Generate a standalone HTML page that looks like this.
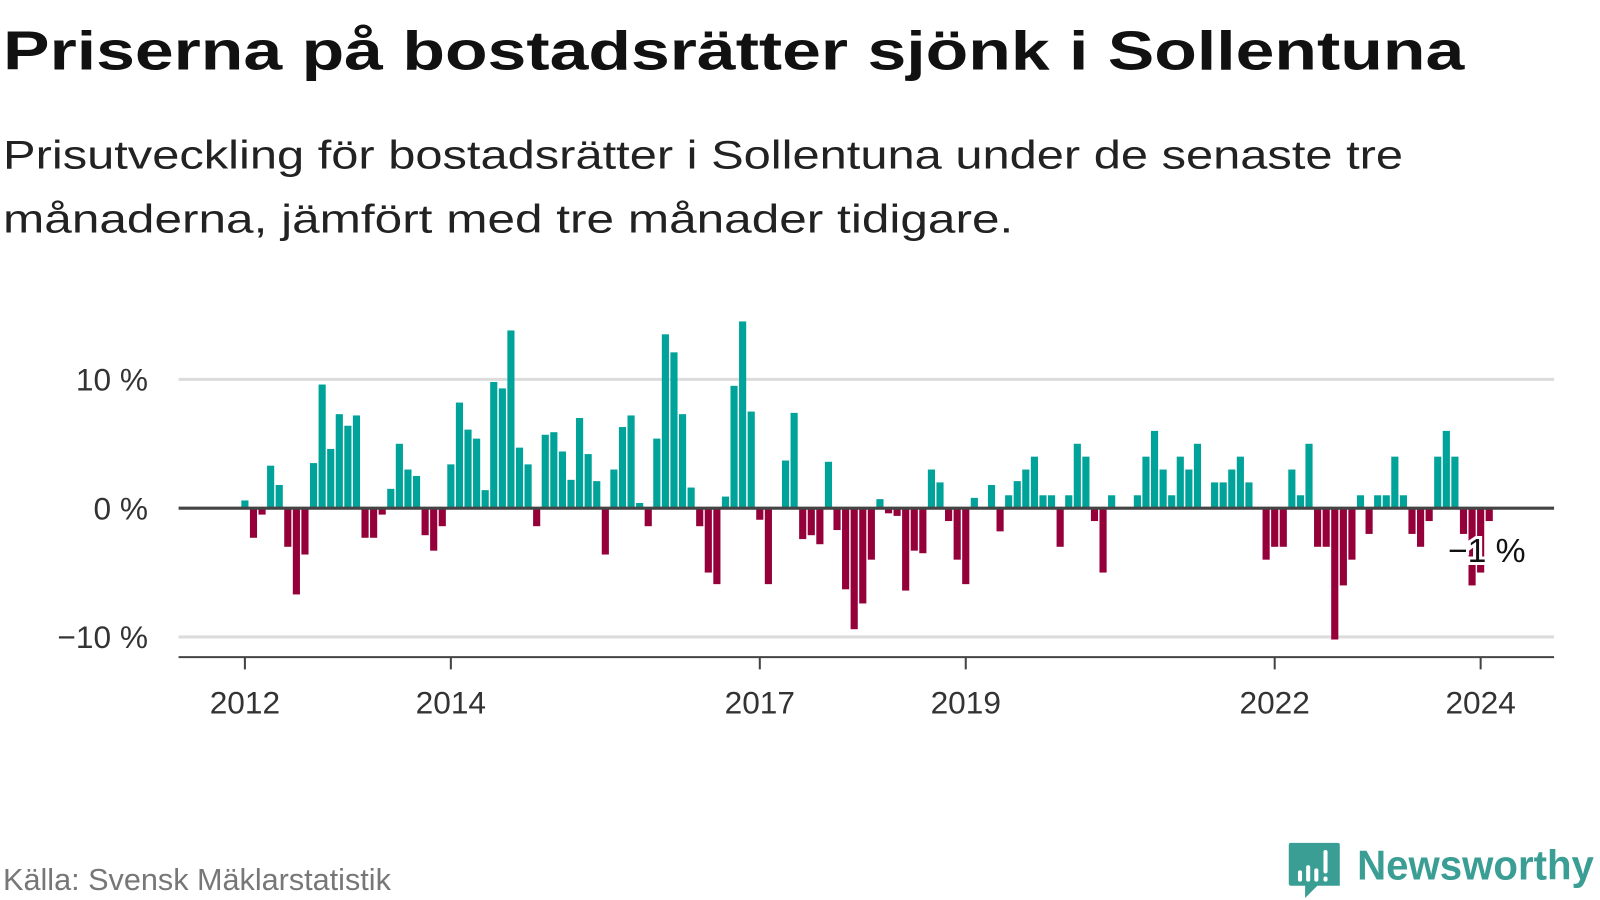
<!DOCTYPE html>
<html><head><meta charset="utf-8"><style>
body{margin:0;background:#fff;}
svg{display:block;font-family:"Liberation Sans","DejaVu Sans",sans-serif;}
</style></head><body>
<svg id="chart" width="1600" height="900" viewBox="0 0 1568 882">
<text x="3" y="68" font-size="54" font-weight="bold" fill="#111" textLength="1432" lengthAdjust="spacingAndGlyphs">Priserna på bostadsrätter sjönk i Sollentuna</text>
<text x="3" y="165" font-size="39" fill="#222" textLength="1372" lengthAdjust="spacingAndGlyphs">Prisutveckling för bostadsrätter i Sollentuna under de senaste tre</text>
<text x="3" y="228" font-size="39" fill="#222" textLength="990" lengthAdjust="spacingAndGlyphs">månaderna, jämfört med tre månader tidigare.</text>
<g id="grid"></g>
<g id="bars"></g>
<g id="axes"></g>
<text x="3" y="872" font-size="30" fill="#777">Källa: Svensk Mäklarstatistik</text>
<g>
<path d="M1265 826 h46 a2 2 0 0 1 2 2 v40 h-22 l-12 12 v-12 h-14 a2 2 0 0 1 -2 -2 v-38 a2 2 0 0 1 2 -2z" fill="#3a9e94"/>
<rect x="1272" y="853" width="4" height="11" rx="2" fill="#fff"/>
<rect x="1280" y="848" width="4" height="16" rx="2" fill="#fff"/>
<rect x="1288" y="851" width="4" height="13" rx="2" fill="#fff"/>
<rect x="1297" y="833" width="4" height="23" rx="2" fill="#fff"/>
<rect x="1297" y="859" width="4" height="5" rx="2" fill="#fff"/>
<text x="1330" y="862" font-size="41" font-weight="bold" fill="#3a9e94" textLength="232" lengthAdjust="spacingAndGlyphs">Newsworthy</text>
</g>
</svg>
<script>
const values = [0.6,-2.3,-0.5,3.3,1.8,-3.0,-6.7,-3.6,3.5,9.6,4.6,7.3,
6.4,7.2,-2.3,-2.3,-0.5,1.5,5.0,3.0,2.5,-2.1,-3.3,-1.4,
3.4,8.2,6.1,5.4,1.4,9.8,9.3,13.8,4.7,3.4,-1.4,5.7,
5.9,4.4,2.2,7.0,4.2,2.1,-3.6,3.0,6.3,7.2,0.4,-1.4,
5.4,13.5,12.1,7.3,1.6,-1.4,-5.0,-5.9,0.9,9.5,14.5,7.5,
-0.9,-5.9,0,3.7,7.4,-2.4,-2.1,-2.8,3.6,-1.7,-6.3,-9.4,
-7.4,-4.0,0.7,-0.4,-0.6,-6.4,-3.3,-3.5,3.0,2.0,-1.0,-4.0,
-5.9,0.8,0,1.8,-1.8,1.0,2.1,3.0,4.0,1.0,1.0,-3.0,
1.0,5.0,4.0,-1.0,-5.0,1.0,0,0,1.0,4.0,6.0,3.0,
1.0,4.0,3.0,5.0,0,2.0,2.0,3.0,4.0,2.0,0,-4.0,
-3.0,-3.0,3.0,1.0,5.0,-3.0,-3.0,-10.2,-6.0,-4.0,1.0,-2.0,
1.0,1.0,4.0,1.0,-2.0,-3.0,-1.0,4.0,6.0,4.0,-2.0,-6.0,
-5.0,-1.0];
const startYear = 2012;
const yTicks = [10,0,-10];
const yTickLabels = ["10 %","0 %","\u221210 %"];
const xTickYears = [2012,2014,2017,2019,2022,2024];
const lastLabel = "\u22121 %";

const NS = "http://www.w3.org/2000/svg";
function xYear(t){ return 240 + (t - 2012) * 100.92; }
function xMonth(i){ return xYear(startYear + i / 12); }
function y(v){ return 498 - v * 12.62; }
function mk(tag, attrs, parent){ const e=document.createElementNS(NS,tag); for(const k in attrs) e.setAttribute(k,attrs[k]); parent.appendChild(e); return e; }

const grid=document.getElementById('grid'), bars=document.getElementById('bars'), axes=document.getElementById('axes');
yTicks.forEach((t,k)=>{
  if(t!==0){
    const l=mk('line',{x1:175,x2:1523,y1:y(t),y2:y(t),stroke:'#dcdcdc','stroke-width':3},grid);
    
    
  }
  const tx=mk('text',{x:145,y:y(t)+11,'font-size':31,fill:'#333','text-anchor':'end'},axes);
  tx.textContent=yTickLabels[k];
  
  
});
values.forEach((v,i)=>{
  if(v===0) return;
  const cx=xMonth(i), w=7;
  const r=mk('rect',{x:cx-w/2,y:Math.min(y(v),y(0)),width:w,height:Math.abs(y(v)-y(0)),fill:v>0?'#00a399':'#95003a'},bars);
  
  
});
const zl=mk('line',{x1:175,x2:1523,y1:y(0),y2:y(0),stroke:'#444','stroke-width':3},axes);


const xl=mk('line',{x1:175,x2:1523,y1:644,y2:644,stroke:'#444','stroke-width':2},axes);


xTickYears.forEach(yr=>{
  const tk=mk('line',{x1:xYear(yr),x2:xYear(yr),y1:644,y2:656,stroke:'#444','stroke-width':2},axes);
  
  
  const tx=mk('text',{x:xYear(yr),y:699,'font-size':31,fill:'#333','text-anchor':'middle'},axes);
  tx.textContent=String(yr);
  
  
});
const lbl=mk('text',{x:1419,y:551,'font-size':33,fill:'#111',stroke:'#fff','stroke-width':6,'paint-order':'stroke'},axes);
lbl.textContent=lastLabel;


</script>
</body></html>
